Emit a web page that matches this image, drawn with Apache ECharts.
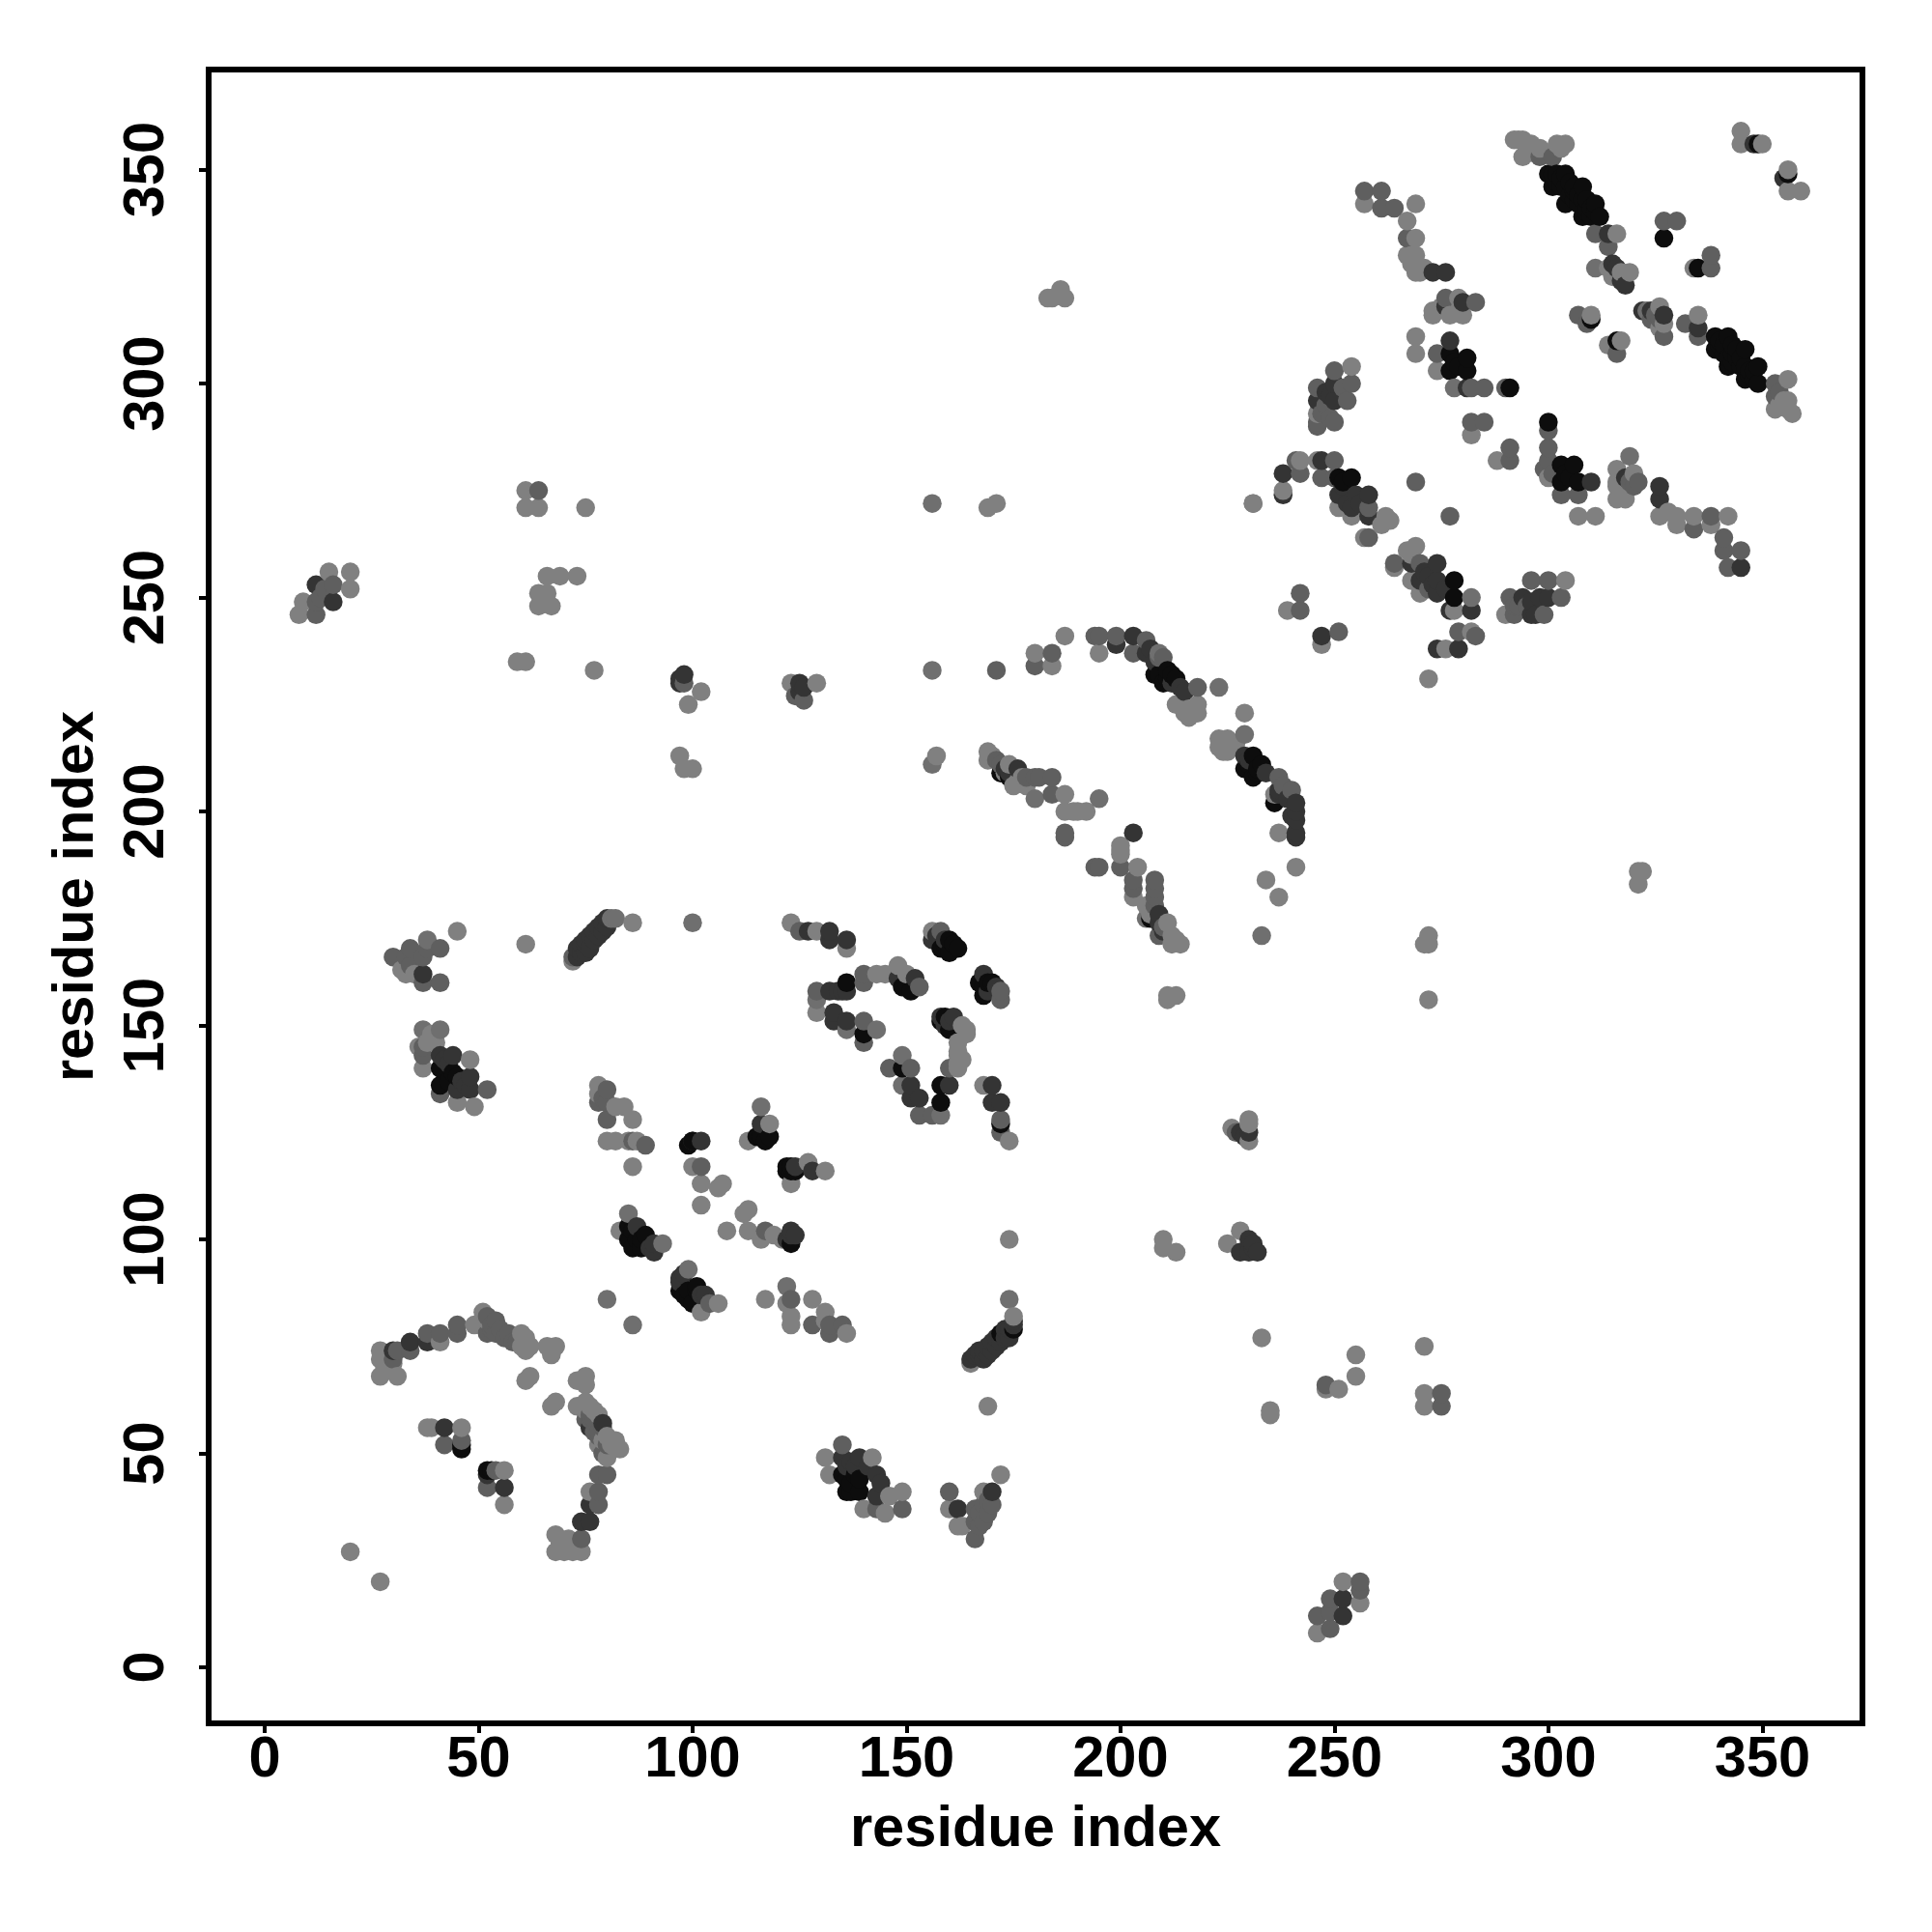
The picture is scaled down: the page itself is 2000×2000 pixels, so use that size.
<!DOCTYPE html>
<html>
<head>
<meta charset="utf-8">
<style>html,body{margin:0;padding:0;background:#fff}#chart{width:2000px;height:2000px}</style>
<script src="https://cdn.jsdelivr.net/npm/echarts@6/dist/echarts.min.js"></script>
</head>
<body>
<div id="chart"></div>
<script>
const tickValues = [0, 50, 100, 150, 200, 250, 300, 350];
const xAxisTitle = "residue index";
const yAxisTitle = "residue index";

const lightPoints = [
[20,27],[27,20],[27,74],[27,72],[27,68],[31,68],[30,71],[41,76],[49,80],[51,83],[61,77],[61,74],[62,75],[66,75],[67,73],[68,75],[61,67],[62,68],[67,61],[68,62],[73,67],[75,68],[75,66],[73,61],[75,62],[77,60],[75,60],[78,52],[80,54],[81,52],[83,51],[80,49],[76,41],[68,31],[71,30],[68,27],[72,27],[74,27],[29,72],[28,70],[69,29],[70,27],[73,28],[76,61],[78,59],[79,53],[82,53],[60,75],[60,78],[52,81],
[38,56],[39,56],[46,56],[56,46],[56,38],[45,172],[61,169],[33,162],[72,165],[86,174],[36,145],[40,146],[37,140],[48,142],[45,132],[49,131],[78,136],[78,134],[82,131],[84,131],[86,128],[80,123],[82,123],[85,123],[87,123],[86,117],[100,117],[102,113],[106,112],[107,113],[102,108],[118,127],[113,123],[127,118],[131,116],[123,113],[113,107],[112,106],[108,102],[113,102],[116,100],[119,101],[83,102],[102,83],[106,85],[117,86],[122,85],[123,82],[123,80],[128,86],[131,83],[131,81],[136,78],[32,163],[35,162],[38,146],[39,148],[121,100],
[123,174],[129,172],[136,168],[143,162],[145,162],[148,164],[150,162],[129,153],[156,172],[163,150],[164,148],[162,144],[162,143],[162,140],[168,136],[174,123],[210,100],[210,98],[213,97],[211,156],[211,157],[213,157],[165,71],[175,82],[169,61],[172,45],[131,49],[132,45],[142,49],[146,40],[149,41],[140,37],[145,36],[160,37],[162,33],[163,33],[168,41],[233,77],[235,60],[225,99],[228,102],[162,146],[163,142],[162,141],[164,149],
[255,73],[248,65],[251,65],[255,68],[271,75],[271,64],[271,61],[246,8],[252,20],[256,15],[226,126],[230,128],[230,123],[230,127],[235,59],
[187,241],[195,237],[218,225],[214,225],[215,223],[217,223],[213,225],[180,237],[184,234],[223,217],[225,217],[223,215],[225,214],[227,216],[229,223],[237,195],[241,187],[234,184],[237,180],[236,204],[216,224],[216,222],[218,223],[224,216],[226,215],[224,214],
[169,214],[169,212],[174,211],[175,206],[177,208],[187,204],[187,200],[190,200],[192,200],[200,192],[200,190],[204,187],[203,180],[211,174],[212,171],[214,169],[212,169],[170,213],[173,209],[176,207],[178,206],[189,200],[200,191],[213,170],[206,178],[207,176],
[257,342],[269,342],[267,338],[269,334],[267,330],[269,330],[269,326],[271,327],[273,317],[273,316],[279,320],[280,316],[269,311],[269,307],[274,303],[282,288],[254,304],[246,293],[238,275],[242,282],[231,272],[246,282],[251,271],[254,269],[262,269],[261,267],[257,264],[264,257],[267,261],[269,262],[268,254],[270,251],[278,247],[282,242],[276,238],[272,231],[239,247],[247,239],[290,246],[304,254],[288,282],[300,278],[307,269],[311,269],[268,330],[268,328],[270,326],[275,318],[277,316],[279,317],[263,268],[268,260],
[293,357],[296,356],[294,353],[302,356],[304,356],[296,354],[316,335],[314,327],[319,326],[310,316],[317,310],[314,309],[334,327],[345,359],[345,356],[350,356],[356,350],[356,345],[359,345],[326,318],[327,314],[326,313],[335,316],[356,301],[353,294],[356,296],[357,293],[356,294],[316,280],[320,279],[316,273],[318,273],[326,269],[328,270],[330,269],[330,267],[334,269],[338,267],[342,269],[316,277],[316,276],[294,357],[295,355],[297,354],[298,355],[303,355],[292,357],[315,325],[317,326],[354,295],[355,296],[318,278],
[8,246],[9,249],[15,256],[20,256],[20,252],[61,275],[61,271],[64,271],[75,271],[73,255],[66,255],[69,255],[64,251],[66,251],[64,248],[67,248],[59,235],[61,235],[77,233],[102,228],[99,225],[97,213],[98,210],[100,210],[123,230],[129,230],[169,271],[171,272],[157,213],[231,272],[183,320],[186,322],[187,320],[184,320],[321,186],[322,186],[321,183],[272,171],[272,169],[271,169],[272,156],[174,100]
];
const softPoints = [
[38,170],[100,174],[37,149],[41,149],[116,131],[85,106],[93,99],[99,93],[122,89],[129,156],[149,143],[143,149],[136,149],[149,136],[158,129],[206,175],[209,237],[195,203],[223,229],[229,218],[180,203],[278,299],[282,250],[311,327],[319,283],[323,317],[174,86],[233,171],[156,272],[156,233],[156,211],[80,86],[86,80],[81,175],[82,175]
];
const midPoints = [
[34,74],[38,78],[41,78],[45,80],[45,78],[52,82],[52,78],[54,81],[54,78],[55,79],[56,77],[58,76],[59,76],[75,58],[77,58],[78,45],[80,45],[78,41],[78,38],[74,30],[42,52],[46,53],[52,42],[54,46],[30,72],[31,74],[53,80],[53,79],[57,78],[57,77],[76,58],[76,59],[77,55],[78,55],[78,54],[79,56],[80,52],[79,50],
[30,166],[34,168],[33,166],[34,164],[38,168],[37,166],[37,160],[41,168],[41,160],[72,166],[37,145],[37,143],[52,135],[41,134],[80,135],[78,132],[80,132],[80,128],[86,123],[89,122],[102,117],[117,102],[104,85],[123,86],[128,80],[132,80],[132,78],[135,80],[125,172],[140,162],[140,160],[153,159],[129,158],[140,151],[140,146],[158,172],[172,158],[172,156],[146,140],[151,140],[153,129],[156,129],[160,140],[172,128],[172,125],[79,133],
[135,52],[149,37],[143,37],[160,41],[166,37],[166,34],[168,34],[166,30],[170,38],[168,38],[227,125],[249,13],[249,16],[256,20],[246,12],[249,9],[256,18],[275,64],[275,61],[248,66],[167,36],[169,36],[167,33],[169,39],
[194,241],[195,241],[199,241],[206,240],[203,237],[218,229],[184,237],[180,234],[171,233],[237,208],[240,205],[171,212],[180,208],[181,208],[184,208],[184,204],[187,195],[187,194],[194,187],[195,187],[200,187],[203,184],[208,184],[208,180],[209,171],[209,236],[210,236],[238,206],[172,211],[178,208],[208,182],[208,178],[210,173],[203,182],
[257,345],[261,345],[261,341],[264,341],[267,334],[276,320],[283,319],[274,307],[282,299],[285,299],[290,299],[282,291],[285,291],[291,285],[291,282],[250,303],[254,300],[246,299],[253,296],[250,291],[246,291],[246,290],[248,295],[247,293],[249,292],[252,299],
[241,282],[242,279],[250,282],[247,278],[250,278],[258,271],[258,264],[264,258],[270,258],[279,242],[283,241],[242,251],[242,247],[251,242],[291,250],[292,246],[296,254],[300,254],[303,250],[299,246],[300,289],[300,285],[300,282],[303,274],[307,274],[269,277],[277,269],[293,248],[295,248],[292,248],[272,252],[299,280],[301,279],
[298,353],[301,353],[311,335],[314,332],[307,316],[309,314],[316,307],[327,338],[330,338],[338,330],[338,327],[324,315],[327,311],[332,314],[335,311],[353,300],[353,297],[320,276],[334,266],[338,269],[341,264],[341,261],[345,261],[342,257],[319,277],[321,277],[325,316],[326,315],[354,298],
[12,246],[12,249],[16,253],[64,275],[124,227],[126,226],[13,250],[14,252],[98,230]
];
const darkPoints = [
[30,74],[34,76],[38,76],[42,56],[56,42],[52,45],[76,56],[79,57],[76,38],[74,34],[76,34],[37,162],[73,168],[74,167],[75,169],[75,170],[76,171],[77,172],[78,173],[79,174],[80,175],[73,166],[74,169],[75,167],[76,168],[77,170],[78,171],[79,172],[80,173],
[41,143],[44,143],[48,138],[45,135],[48,135],[102,123],[100,123],[116,127],[124,117],[128,116],[123,102],[123,101],[87,103],[91,99],[91,97],[97,91],[103,87],[127,172],[132,172],[132,170],[136,170],[42,142],[43,141],[47,136],[46,137],[90,98],[98,92],[97,90],[102,87],[122,100],[124,101],
[148,161],[152,161],[132,158],[134,158],[136,158],[133,153],[133,151],[136,151],[156,170],[168,162],[158,152],[161,152],[151,136],[151,133],[153,133],[160,136],[170,136],[170,132],[172,132],[135,158],[157,171],[159,170],[159,150],[160,151],[169,158],[171,159],
[165,72],[166,73],[167,73],[168,74],[169,75],[170,76],[171,77],[173,79],[174,79],[175,81],[175,80],[135,49],[139,49],[143,45],[143,40],[162,37],[170,41],[230,125],[232,97],[230,100],[228,97],[230,97],[252,12],[252,16],[167,74],[168,72],[169,73],[170,74],[171,75],[172,76],[173,77],[174,77],[136,47],[137,48],[138,47],[141,47],[144,43],[228,125],[229,124],[231,98],[231,99],
[203,241],[199,239],[206,237],[214,229],[229,213],[176,210],[203,195],[241,202],[241,200],[241,198],[241,195],[241,194],[237,205],[209,176],[207,238],[208,235],[212,230],[215,228],[230,212],[234,209],[239,203],[240,199],[173,210],[174,209],[209,174],[210,172],[237,204],
[273,326],[276,326],[276,318],[280,319],[277,310],[281,299],[250,300],[246,296],[250,296],[238,279],[238,274],[247,282],[251,274],[255,274],[258,274],[254,271],[258,269],[268,258],[274,258],[270,254],[274,254],[274,251],[277,247],[282,247],[247,241],[279,238],[274,238],[296,249],[300,250],[296,246],[310,277],[248,298],[249,297],[252,276],[253,272],[256,272],[271,256],[272,255],[273,253],[276,252],[298,250],[294,250],[297,246],
[314,335],[316,327],[318,323],[322,317],[327,316],[335,313],[355,348],[348,356],[318,278],[326,276],[326,273],[345,257],[16,249],[12,253],[97,231],[125,230],[315,328],[317,324],[324,317],[98,232],[97,230],[126,229],[125,228]
];
const blackPoints = [
[46,52],[52,46],[44,139],[41,136],[45,138],[43,137],[41,140],[99,122],[116,124],[118,124],[117,123],[123,116],[123,117],[123,99],[85,103],[85,100],[89,101],[86,98],[88,98],[101,89],[98,87],[100,85],[101,88],[97,88],[87,100],[86,102],[88,100],[99,88],[99,86],[100,123],[115,124],[122,117],[122,116],[124,116],[53,46],[46,51],
[149,159],[151,158],[136,160],[140,148],[160,170],[158,168],[162,168],[160,167],[167,160],[170,160],[168,157],[158,151],[160,149],[149,140],[158,136],[158,132],[172,127],[175,79],[135,45],[139,44],[136,41],[139,41],[172,78],[150,160],[159,169],[161,169],[168,159],[169,160],[159,152],[136,44],[137,43],[137,41],[138,45],
[211,233],[208,232],[213,231],[210,230],[231,213],[229,210],[233,211],[231,208],[236,202],[172,209],[174,208],[207,175],[209,232],[211,231],[212,232],[230,211],[232,210],[232,209],
[277,307],[281,306],[277,303],[281,303],[291,299],[251,278],[254,278],[300,291],[303,281],[306,281],[303,277],[307,277],[278,254],[278,250],[278,305],[279,304],[304,279],[305,278],[252,277],
[300,349],[304,349],[301,346],[304,346],[308,346],[304,342],[307,344],[308,339],[311,342],[312,339],[327,334],[316,310],[310,315],[335,327],[349,356],[356,349],[339,311],[342,311],[339,308],[346,308],[342,304],[346,304],[349,304],[346,301],[349,300],[342,306],
[301,349],[302,349],[303,348],[302,347],[303,346],[305,347],[306,346],[306,345],[305,344],[306,343],[307,342],[308,343],[309,343],[309,341],[309,340],[310,341],[310,339],[311,340],
[340,310],[341,309],[340,309],[343,309],[344,308],[343,307],[344,306],[345,306],[343,305],[345,304],[347,303],[347,302],[348,301],[348,303],[341,307]
];

const shadeGroups = [
  { points: lightPoints, color: "#808080" },
  { points: softPoints,  color: "#6f6f6f" },
  { points: midPoints,   color: "#5f5f5f" },
  { points: darkPoints,  color: "#343434" },
  { points: blackPoints, color: "#0d0d0d" }
];

// Points are painted in order of x, then y, so later residues overlap earlier ones.
const data = [];
shadeGroups.forEach(g => g.points.forEach(p => {
  data.push({ value: p, itemStyle: { color: g.color } });
}));
data.sort((a, b) => a.value[0] - b.value[0] || a.value[1] - b.value[1]);

const font = "'Liberation Sans', Arial, sans-serif";
function axis(name, rotate, nameGap, margin) {
  return {
    type: "value", name, nameLocation: "middle", nameGap,
    min: -13.1, max: 373.4,
    nameTextStyle: { fontFamily: font, fontWeight: "bold", fontSize: 59.6, color: "#000" },
    axisLine: { show: false, onZero: false },
    splitLine: { show: false },
    axisTick: { show: true, length: 10, lineStyle: { color: "#000", width: 4 }, customValues: tickValues },
    axisLabel: { show: true, rotate, margin, fontFamily: font, fontWeight: "bold", fontSize: 59.6, color: "#000", customValues: tickValues, formatter: v => String(v) }
  };
}
const chart = echarts.init(document.getElementById("chart"), null, { renderer: "canvas" });
chart.setOption({
  animation: false,
  backgroundColor: "#fff",
  grid: { show: true, left: 216, right: 72, top: 72, bottom: 216, borderColor: "#000", borderWidth: 6, backgroundColor: "transparent", containLabel: false },
  xAxis: axis(xAxisTitle, 0, 81, 9),
  yAxis: axis(yAxisTitle, 90, 106, 33),
  series: [{ type: "scatter", symbol: "circle", symbolSize: 19.5, data, silent: true, itemStyle: { opacity: 1 } }]
});
</script>
</body>
</html>
